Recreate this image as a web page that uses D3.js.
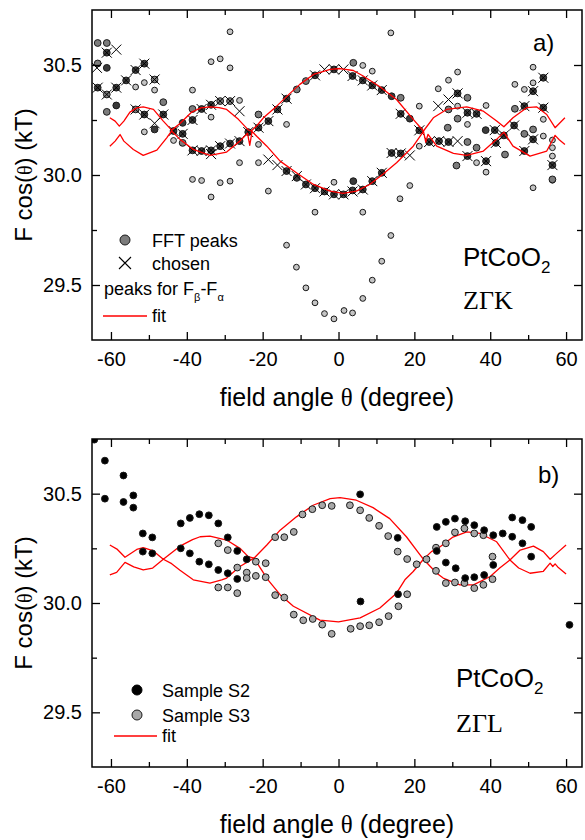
<!DOCTYPE html>
<html><head><meta charset="utf-8">
<script src="https://cdn.jsdelivr.net/npm/d3@7"></script>
<style>
body{margin:0;background:#fff}
svg{display:block}
text{font-family:"Liberation Sans",Arial,sans-serif;fill:#000}
</style>
</head><body>
<svg id="c" width="585" height="840"></svg>
<script>
// ---------------- data ----------------
const xTicksMajor = [-60,-40,-20,0,20,40,60];
const xTicksMinor = [-50,-30,-10,10,30,50];
const yTicksMajor = [29.5,30.0,30.5];
const yTicksMinor = [29.75,30.25];

// panel a) : peaks for F_beta - F_alpha (light grey)
const aLightPeaks = [[-53.5,30.40],[-51.2,30.42],[-48.5,30.386],[-51.2,30.196],[-43.5,30.157],[-38.5,30.386],[-38.5,29.98],[-36.1,29.975],[-33.6,30.263],[-33.6,30.515],[-33.6,29.90],[-31.2,30.528],[-31.2,29.965],[-28.6,30.651],[-28.6,30.487],[-28.6,29.972],[-26.1,30.339],[-26.1,30.056],[-21.1,30.139],[-21.1,30.056],[-18.5,29.927],[-13.7,30.23],[-13.7,29.681],[-11.1,29.581],[-8.6,29.487],[-6.2,29.419],[-3.7,29.37],[-1.2,29.346],[1.45,29.384],[3.7,29.373],[6.4,29.439],[8.9,29.522],[11.4,29.608],[13.8,29.725],[16.2,29.892],[18.8,29.952],[-6.2,29.831],[6.4,29.831],[-1.2,29.967],[13.8,30.646],[6.4,30.498],[8.9,30.472],[21.3,30.313],[21.3,30.131],[26.3,30.392],[29.0,30.431],[31.4,30.468],[31.4,30.313],[34.0,30.23],[38.9,30.316],[46.5,30.412],[49.0,30.389],[51.3,30.49],[51.3,30.419],[54.0,30.253],[54.0,30.177],[56.4,30.159],[56.4,30.124],[56.4,30.086],[36.4,30.056],[38.9,30.013],[51.3,29.942],[56.4,29.976]];
// panel a) : FFT peaks (grey)
const aFftGrey = [[-63.5,30.600],[-61.1,30.600],[-63.5,30.507],[-61.1,30.287],[-61.1,30.366],[-53.5,30.298],[-48.5,30.434],[-46.2,30.331],[-41.1,30.146],[-38.5,30.300],[-31.2,30.336],[-28.6,30.336],[-21.1,30.275],[-11.0,30.389],[-8.6,30.427],[3.9,30.510],[16.4,30.351],[34.0,30.351],[29.0,30.298],[31.4,30.256],[28.8,30.215],[36.4,30.124],[34.0,30.150],[31.1,30.043],[43.9,30.093],[46.5,30.301],[49.0,30.187],[51.3,30.207],[56.4,29.980]];
// panel a) : FFT peaks (dark)
const aFftDark = [[-61.1,30.556],[-61.1,30.487],[-63.5,30.397],[-58.6,30.397],[-58.6,30.316],[-56.0,30.430],[-53.5,30.477],[-51.2,30.506],[-51.2,30.275],[-48.5,30.207],[-46.2,30.275],[-43.5,30.200],[-41.1,30.187],[-41.1,30.237],[-38.5,30.250],[-38.5,30.112],[-36.1,30.300],[-36.1,30.109],[-33.6,30.319],[-33.6,30.112],[-31.2,30.131],[-28.6,30.143],[-26.1,30.154],[-23.8,30.195],[-21.1,30.215],[-18.5,30.245],[-16.1,30.298],[-13.7,30.347],[-13.7,30.018],[-11.0,29.987],[-8.6,29.957],[-6.2,29.940],[-3.7,29.925],[-1.2,29.912],[1.3,29.912],[3.7,29.930],[3.9,29.972],[6.4,29.934],[8.9,29.972],[11.4,30.010],[14.0,30.100],[16.4,30.098],[-6.2,30.453],[-1.2,30.480],[3.7,30.450],[6.4,30.430],[8.9,30.407],[11.4,30.386],[14.0,30.358],[16.4,30.278],[18.8,30.256],[21.3,30.203],[23.9,30.150],[26.5,30.154],[29.0,30.150],[31.4,30.371],[34.0,30.283],[36.4,30.278],[38.8,30.204],[41.2,30.204],[41.5,30.146],[43.6,30.180],[46.3,30.225],[49.0,30.313],[49.0,30.109],[51.3,30.381],[54.0,30.442],[54.0,30.306],[51.3,30.162],[56.4,30.045],[38.9,30.063],[34.0,30.086]];
// panel a) : chosen
const aChosen = [[-63.7,30.487],[-61.1,30.556],[-58.6,30.570],[-63.5,30.397],[-61.1,30.366],[-58.6,30.397],[-56.0,30.430],[-53.5,30.477],[-51.2,30.506],[-48.5,30.434],[-53.5,30.298],[-51.2,30.275],[-48.5,30.235],[-46.2,30.275],[-43.5,30.200],[-41.1,30.187],[-38.5,30.250],[-38.5,30.112],[-36.1,30.300],[-36.1,30.109],[-33.6,30.319],[-33.6,30.112],[-33.6,30.095],[-31.2,30.336],[-31.2,30.131],[-28.6,30.336],[-28.6,30.143],[-26.1,30.290],[-26.1,30.154],[-23.8,30.195],[-21.1,30.215],[-18.5,30.245],[-16.1,30.298],[-13.7,30.347],[-18.5,30.070],[-16.1,30.045],[-13.7,30.018],[-11.0,29.995],[-8.6,29.957],[-6.2,29.940],[-3.7,29.925],[-1.2,29.912],[1.3,29.912],[3.7,29.925],[6.4,29.934],[8.9,29.972],[11.4,30.010],[-6.2,30.453],[-3.7,30.480],[-1.2,30.480],[1.3,30.480],[3.7,30.450],[6.4,30.430],[8.9,30.407],[11.4,30.386],[14.0,30.100],[16.4,30.098],[18.8,30.089],[16.4,30.278],[21.3,30.203],[23.9,30.150],[26.5,30.154],[29.0,30.150],[31.4,30.154],[26.3,30.313],[29.0,30.343],[31.4,30.371],[34.0,30.283],[36.4,30.278],[34.0,30.086],[38.9,30.063],[41.2,30.204],[41.5,30.146],[43.6,30.180],[46.3,30.225],[49.0,30.313],[49.0,30.109],[51.3,30.381],[54.0,30.442],[54.0,30.306],[51.3,30.162],[56.4,30.045]];
// panel a) : fit, upper and lower branches
const aFitUpper = [[-60.3,30.260],[-58.9,30.245],[-57.8,30.222],[-56.6,30.245],[-55.0,30.286],[-53.2,30.305],[-51.5,30.310],[-48.8,30.298],[-46.2,30.245],[-44.0,30.204],[-41.8,30.234],[-38.7,30.286],[-36.3,30.305],[-33.9,30.310],[-31.5,30.306],[-29.5,30.298],[-26.4,30.253],[-23.8,30.205],[-23.0,30.200],[-21.5,30.225],[-19.8,30.260],[-16.3,30.313],[-12.8,30.371],[-10.2,30.412],[-6.6,30.457],[-2.2,30.480],[0.4,30.484],[3.9,30.475],[6.5,30.450],[10.9,30.401],[15.3,30.343],[19.7,30.253],[22.4,30.200],[25.0,30.260],[28.5,30.298],[33.8,30.310],[38.2,30.290],[41.7,30.245],[43.6,30.219],[46.0,30.260],[49.6,30.306],[52.2,30.310],[54.9,30.275],[57.1,30.215],[59.7,30.260]];
const aFitLower = [[-60.3,30.131],[-58.9,30.154],[-57.6,30.184],[-56.6,30.154],[-54.1,30.116],[-51.5,30.089],[-47.9,30.113],[-45.3,30.169],[-44.0,30.200],[-41.8,30.162],[-38.3,30.116],[-33.9,30.089],[-29.5,30.104],[-26.0,30.154],[-24.0,30.190],[-23.4,30.135],[-22.8,30.198],[-21.5,30.175],[-18.9,30.131],[-15.4,30.063],[-11.1,30.010],[-6.6,29.957],[-2.2,29.927],[1.2,29.916],[4.7,29.927],[8.2,29.957],[11.7,30.003],[15.3,30.056],[19.7,30.131],[22.4,30.198],[23.0,30.150],[23.6,30.185],[25.9,30.131],[30.3,30.098],[33.8,30.089],[38.2,30.109],[41.7,30.162],[43.6,30.195],[46.0,30.131],[50.5,30.086],[54.9,30.109],[57.1,30.180],[58.2,30.160],[59.7,30.139]];

// panel b) : samples
const bSampleS2 = [[-64.4,30.747],[-61.6,30.651],[-61.6,30.477],[-56.7,30.583],[-56.7,30.462],[-54.1,30.492],[-54.1,30.436],[-51.6,30.318],[-51.6,30.235],[-49.1,30.300],[-49.1,30.227],[-41.6,30.364],[-41.6,30.250],[-39.2,30.389],[-39.2,30.227],[-36.7,30.406],[-36.7,30.189],[-34.2,30.401],[-34.2,30.177],[-31.7,30.364],[-31.7,30.151],[-29.2,30.300],[-29.2,30.136],[-26.7,30.238],[-26.7,30.110],[-24.2,30.200],[5.7,30.497],[5.8,30.007],[15.6,30.298],[15.7,30.040],[25.9,30.348],[25.9,30.238],[28.3,30.371],[30.7,30.386],[33.4,30.374],[35.8,30.356],[38.4,30.333],[40.8,30.310],[43.3,30.318],[45.8,30.391],[45.8,30.303],[48.5,30.379],[48.5,30.273],[50.8,30.348],[50.8,30.212],[28.3,30.185],[30.9,30.159],[33.4,30.114],[35.8,30.118],[38.4,30.128],[40.8,30.174],[60.9,29.900]];
const bSampleS3 = [[-31.7,30.273],[-29.2,30.242],[-31.7,30.071],[-29.2,30.071],[-26.7,30.162],[-26.7,30.045],[-24.2,30.139],[-24.2,30.114],[-21.8,30.189],[-21.8,30.124],[-19.2,30.182],[-19.2,30.118],[-16.7,30.301],[-16.7,30.036],[-14.3,30.301],[-14.3,30.025],[-11.8,30.325],[-11.8,29.947],[-9.5,30.405],[-6.9,30.429],[-4.3,30.447],[-1.8,30.444],[3.0,30.447],[5.7,30.424],[8.1,30.389],[10.7,30.353],[13.1,30.306],[15.6,30.235],[18.1,30.201],[20.6,30.177],[23.2,30.200],[25.7,30.253],[25.7,30.147],[28.3,30.273],[28.3,30.091],[30.7,30.323],[30.7,30.094],[33.2,30.341],[33.2,30.091],[35.8,30.318],[35.8,30.068],[38.2,30.310],[38.2,30.083],[40.6,30.212],[40.6,30.109],[-9.3,29.921],[-6.8,29.927],[-4.3,29.901],[-1.8,29.859],[3.2,29.882],[5.7,29.894],[8.1,29.898],[10.7,29.912],[13.2,29.940],[15.8,29.985],[18.1,30.040]];
const bFitUpper = [[-60.3,30.265],[-58.3,30.245],[-56.3,30.209],[-53.2,30.245],[-51.5,30.253],[-49.0,30.240],[-46.2,30.200],[-44.0,30.230],[-41.8,30.260],[-38.5,30.290],[-36.5,30.303],[-33.9,30.306],[-29.5,30.288],[-26.0,30.250],[-23.8,30.212],[-22.3,30.205],[-18.9,30.265],[-15.4,30.333],[-11.1,30.394],[-6.7,30.447],[-2.2,30.477],[0.4,30.482],[4.7,30.470],[9.1,30.436],[13.5,30.386],[17.9,30.303],[21.5,30.220],[22.4,30.200],[24.5,30.235],[26.8,30.257],[30.0,30.300],[33.8,30.325],[37.3,30.318],[41.7,30.280],[45.2,30.197],[47.9,30.242],[51.4,30.260],[54.0,30.235],[55.8,30.200],[57.5,30.227],[60.0,30.265]];
const bFitLower = [[-60.3,30.129],[-58.5,30.140],[-56.3,30.186],[-54.0,30.165],[-51.5,30.151],[-49.0,30.160],[-46.2,30.200],[-44.0,30.180],[-41.8,30.150],[-38.3,30.106],[-33.9,30.091],[-30.8,30.106],[-29.5,30.114],[-26.0,30.167],[-22.3,30.205],[-18.6,30.106],[-15.4,30.038],[-11.9,29.985],[-4.9,29.922],[0.0,29.914],[5.7,29.932],[10.9,29.977],[15.3,30.045],[17.5,30.106],[19.7,30.144],[22.4,30.200],[25.9,30.136],[27.6,30.114],[32.0,30.083],[35.6,30.083],[40.0,30.121],[42.5,30.160],[45.2,30.197],[47.5,30.160],[50.5,30.136],[54.0,30.145],[55.8,30.182],[56.5,30.167],[57.1,30.179],[57.8,30.165],[60.0,30.133]];

// ---------------- drawing ----------------
const svg = d3.select("#c");
const X0 = 92, X1 = 582;
const x = d3.scaleLinear().domain([-65, 64.2]).range([X0, X1]);
const panels = [
  {top:10, bottom:340},
  {top:439, bottom:767}
];
panels.forEach(p => { p.y = d3.scaleLinear().domain([29.25, 30.75]).range([p.bottom, p.top]); });

const RED = "#ff0000";
const lineGen = ys => d3.line().x(d => x(d[0])).y(d => ys(d[1]));
const crossPath = "M-5,-5L5,5M5,-5L-5,5";

function drawAxes(p, g) {
  const fs = "20px";
  const bx = g.append("g").attr("transform", `translate(0,${p.bottom})`)
    .call(d3.axisBottom(x).tickValues(xTicksMajor).tickSize(-8).tickPadding(10).tickFormat(d => String(d)));
  bx.selectAll("text").style("font-size", fs).attr("dy", "0.78em");
  g.append("g").attr("transform", `translate(0,${p.bottom})`)
    .call(d3.axisBottom(x).tickValues(xTicksMinor).tickSize(-5).tickFormat(""));
  g.append("g").attr("transform", `translate(0,${p.top})`)
    .call(d3.axisTop(x).tickValues(xTicksMajor).tickSize(-8).tickFormat(""));
  g.append("g").attr("transform", `translate(0,${p.top})`)
    .call(d3.axisTop(x).tickValues(xTicksMinor).tickSize(-5).tickFormat(""));
  const ly = g.append("g").attr("transform", `translate(${X0},0)`)
    .call(d3.axisLeft(p.y).tickValues(yTicksMajor).tickSize(-8).tickPadding(10).tickFormat(d => d.toFixed(1)));
  ly.selectAll("text").style("font-size", fs);
  g.append("g").attr("transform", `translate(${X0},0)`)
    .call(d3.axisLeft(p.y).tickValues(yTicksMinor).tickSize(-5).tickFormat(""));
  g.append("g").attr("transform", `translate(${X1},0)`)
    .call(d3.axisRight(p.y).tickValues(yTicksMajor).tickSize(-8).tickFormat(""));
  g.append("g").attr("transform", `translate(${X1},0)`)
    .call(d3.axisRight(p.y).tickValues(yTicksMinor).tickSize(-5).tickFormat(""));
  g.selectAll(".domain").remove();
  g.selectAll(".tick line").attr("stroke", "#000").attr("stroke-width", 1.3);
  g.selectAll(".tick text").attr("fill", "#000").style("font-family", "'Liberation Sans',Arial,sans-serif");
  g.append("rect").attr("x", X0).attr("y", p.top).attr("width", X1 - X0).attr("height", p.bottom - p.top)
    .attr("fill", "none").attr("stroke", "#000").attr("stroke-width", 1.5);

  // axis titles
  const xt = g.append("text").attr("x", 337).attr("y", p.bottom + 66).attr("text-anchor", "middle")
    .style("font-size", "25px");
  xt.append("tspan").text("field angle ");
  xt.append("tspan").style("font-family", "'Liberation Serif','DejaVu Serif',serif").text("θ");
  xt.append("tspan").text(" (degree)");
  const cy = (p.top + p.bottom) / 2;
  const yt = g.append("text").attr("transform", `translate(32,${cy}) rotate(-90)`).attr("text-anchor", "middle")
    .style("font-size", "24px");
  yt.append("tspan").text("F cos(");
  yt.append("tspan").style("font-family", "'Liberation Serif','DejaVu Serif',serif").style("font-size", "20px").text("θ");
  yt.append("tspan").text(") (kT)");
}

function circles(g, data, ys, r, fill) {
  g.append("g").selectAll("circle").data(data).join("circle")
    .attr("cx", d => x(d[0])).attr("cy", d => ys(d[1])).attr("r", r)
    .attr("fill", fill).attr("stroke", "#1a1a1a").attr("stroke-width", 1);
}
function crosses(g, data, ys) {
  g.append("g").selectAll("path").data(data).join("path")
    .attr("transform", d => `translate(${x(d[0])},${ys(d[1])})`)
    .attr("d", crossPath).attr("stroke", "#000").attr("stroke-width", 1).attr("fill", "none");
}
function fit(g, up, lo, ys) {
  [up, lo].forEach(arr => {
    g.append("path").datum(arr).attr("d", lineGen(ys)).attr("fill", "none")
      .attr("stroke", RED).attr("stroke-width", 1.3).attr("stroke-linejoin", "round");
  });
}

// ----- panel a -----
{
  const p = panels[0];
  const g = svg.append("g");
  svg.append("clipPath").attr("id", "clipA").append("rect")
    .attr("x", X0).attr("y", p.top).attr("width", X1 - X0).attr("height", p.bottom - p.top);
  const pg = g.append("g").attr("clip-path", "url(#clipA)");
  circles(pg, aLightPeaks, p.y, 2.9, "#c4c4c4");
  circles(pg, aFftGrey, p.y, 3.4, "#7c7c7c");
  circles(pg, aFftDark, p.y, 3.4, "#3a3a3a");
  crosses(pg, aChosen, p.y);
  fit(pg, aFitUpper, aFitLower, p.y);
  drawAxes(p, g);

  // legend
  g.append("circle").attr("cx", 125).attr("cy", 240).attr("r", 5).attr("fill", "#7c7c7c").attr("stroke", "#1a1a1a");
  g.append("text").attr("x", 152).attr("y", 246.5).style("font-size", "18px").text("FFT peaks");
  g.append("path").attr("transform", "translate(125,263)").attr("d", "M-6,-6L6,6M6,-6L-6,6").attr("stroke", "#000").attr("stroke-width", 1.1);
  g.append("text").attr("x", 152).attr("y", 269.5).style("font-size", "18px").text("chosen");
  const pk = g.append("text").attr("x", 104).attr("y", 294.5).style("font-size", "18px");
  pk.append("tspan").text("peaks for F");
  pk.append("tspan").attr("dy", 6).style("font-size", "11px").text("β");
  pk.append("tspan").attr("dy", -6).text("-F");
  pk.append("tspan").attr("dy", 6).style("font-size", "11px").text("α");
  g.append("line").attr("x1", 103).attr("x2", 147).attr("y1", 316).attr("y2", 316).attr("stroke", RED).attr("stroke-width", 1.4);
  g.append("text").attr("x", 152).attr("y", 322).style("font-size", "18px").text("fit");

  const t = g.append("text").attr("x", 463).attr("y", 266).style("font-size", "26px");
  t.append("tspan").text("PtCoO");
  t.append("tspan").attr("dy", 7).style("font-size", "17px").text("2");
  g.append("text").attr("x", 463).attr("y", 309).style("font-size", "26px")
    .style("font-family", "'Liberation Serif','DejaVu Serif',serif").text("ZΓK");
  g.append("text").attr("x", 533).attr("y", 51).style("font-size", "24px").text("a)");
}

// ----- panel b -----
{
  const p = panels[1];
  const g = svg.append("g");
  svg.append("clipPath").attr("id", "clipB").append("rect")
    .attr("x", X0).attr("y", p.top).attr("width", X1 - X0).attr("height", p.bottom - p.top);
  const pg = g.append("g").attr("clip-path", "url(#clipB)");
  fit(pg, bFitUpper, bFitLower, p.y);
  circles(pg, bSampleS3, p.y, 3.4, "#a8a8a8");
  circles(pg, bSampleS2, p.y, 3.4, "#000");
  drawAxes(p, g);

  g.append("circle").attr("cx", 137).attr("cy", 690).attr("r", 5).attr("fill", "#000").attr("stroke", "#000");
  g.append("text").attr("x", 162).attr("y", 696.5).style("font-size", "18px").text("Sample S2");
  g.append("circle").attr("cx", 137).attr("cy", 715).attr("r", 5).attr("fill", "#a8a8a8").attr("stroke", "#1a1a1a");
  g.append("text").attr("x", 162).attr("y", 721.5).style("font-size", "18px").text("Sample S3");
  g.append("line").attr("x1", 114).attr("x2", 157).attr("y1", 736).attr("y2", 736).attr("stroke", RED).attr("stroke-width", 1.4);
  g.append("text").attr("x", 162).attr("y", 742).style("font-size", "18px").text("fit");

  const t = g.append("text").attr("x", 456).attr("y", 687).style("font-size", "26px");
  t.append("tspan").text("PtCoO");
  t.append("tspan").attr("dy", 7).style("font-size", "17px").text("2");
  g.append("text").attr("x", 456).attr("y", 732).style("font-size", "26px")
    .style("font-family", "'Liberation Serif','DejaVu Serif',serif").text("ZΓL");
  g.append("text").attr("x", 538).attr("y", 483).style("font-size", "24px").text("b)");
}
</script>
</body></html>
